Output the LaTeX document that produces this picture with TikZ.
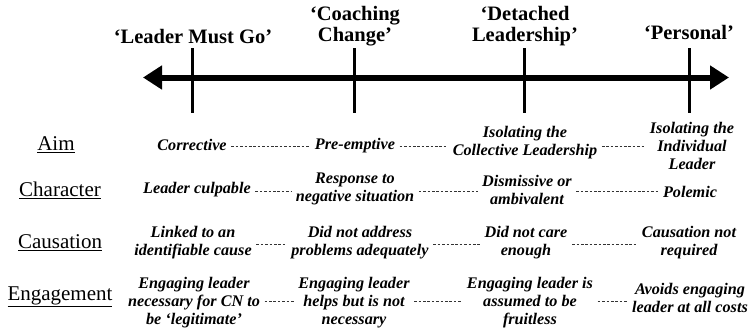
\documentclass[tikz,border=0pt]{standalone}
\usepackage{fontspec}
\setmainfont{Liberation Serif}
\usetikzlibrary{arrows.meta}
\begin{document}
\begin{tikzpicture}[x=1pt,y=-1pt,
  hdr/.style={font=\fontsize{20.5}{21}\selectfont\bfseries, align=center, inner sep=0pt},
  lbl/.style={font=\fontsize{21}{22}\selectfont, inner sep=0pt},
  entry/.style={font=\fontsize{16.2}{18}\selectfont\bfseries\itshape, align=center, inner sep=4.5pt},
  conn/.style={line width=0.6pt, dash pattern=on 2.6pt off 1.8pt, draw=black!80},
  axisline/.style={line width=6pt, {Triangle[length=19pt,width=23pt]}-{Triangle[length=19pt,width=23pt]}},
  tickline/.style={line width=3pt}]
\useasboundingbox (0,0) rectangle (755,332);

% headers
\node[hdr] (h1) at (193,37) {‘Leader Must Go’};
\node[hdr] (h2) at (355,26) {‘Coaching\\Change’};
\node[hdr] (h3) at (525,26) {‘Detached\\Leadership’};
\node[hdr] (h4) at (689,32) {‘Personal’};

% axis
\coordinate (axL) at (143,77.5);
\coordinate (axR) at (729,77.5);
\draw[axisline] (axL) -- (axR);
\foreach \xx/\nm in {192/t1,354/t2,524/t3,689/t4}{
  \coordinate (\nm top) at (\xx,48);
  \coordinate (\nm bot) at (\xx,113);
  \draw[tickline] (\nm top) -- (\nm bot);
}

% row labels
\node[lbl] (lA) at (56,145) {\underline{Aim}};
\node[lbl] (lC) at (60,190) {\underline{Character}};
\node[lbl] (lS) at (60,243) {\underline{Causation}};
\node[lbl] (lE) at (60,297) {\underline{Engagement}};

% row connector heights
\coordinate (rowA) at (0,146);
\coordinate (rowC) at (0,191);
\coordinate (rowS) at (0,244);
\coordinate (rowE) at (0,301);

% Aim
\node[entry] (a1) at (192,145) {Corrective};
\node[entry] (a2) at (355,146) {Pre-emptive};
\node[entry] (a3) at (525,143) {Isolating the\\Collective Leadership};
\node[entry] (a4) at (692,146) {Isolating the\\Individual\\Leader};

% Character
\node[entry] (c1) at (197,190) {Leader culpable};
\node[entry] (c2) at (355,189) {Response to\\negative situation};
\node[entry] (c3) at (527,190) {Dismissive or\\ambivalent};
\node[entry] (c4) at (690,192) {Polemic};

% Causation
\node[entry] (s1) at (193,243) {Linked to an\\identifiable cause};
\node[entry] (s2) at (360,243) {Did not address\\problems adequately};
\node[entry] (s3) at (526,243) {Did not care\\enough};
\node[entry] (s4) at (689,243) {Causation not\\required};

% Engagement
\node[entry] (e1) at (194,303) {Engaging leader\\necessary for CN to\\be ‘legitimate’};
\node[entry] (e2) at (354,303) {Engaging leader\\helps but is not\\necessary};
\node[entry] (e3) at (530,303) {Engaging leader is\\assumed to be\\fruitless};
\node[entry] (e4) at (690,298) {Avoids engaging\\leader at all costs};

% connectors
\foreach \r/\p/\q in {rowA/a1/a2,rowA/a2/a3,rowA/a3/a4,
                      rowC/c1/c2,rowC/c2/c3,rowC/c3/c4,
                      rowS/s1/s2,rowS/s2/s3,rowS/s3/s4,
                      rowE/e1/e2,rowE/e2/e3,rowE/e3/e4}{
  \draw[conn] (\p.east |- \r) -- (\q.west |- \r);
}
\end{tikzpicture}
\end{document}
